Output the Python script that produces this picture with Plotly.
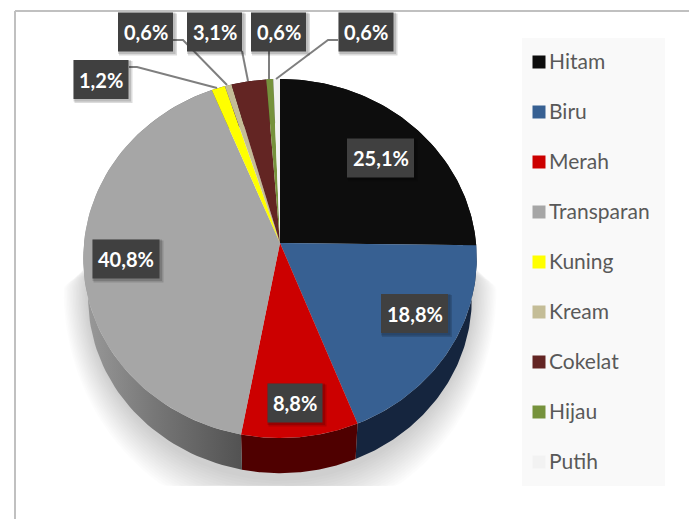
import numpy as np
import plotly.graph_objects as go

categories = ["Hitam", "Biru", "Merah", "Transparan", "Kuning", "Kream", "Cokelat", "Hijau", "Putih"]
shares = [25.1, 18.8, 8.8, 40.8, 1.2, 0.6, 3.1, 0.6, 0.6]
labels = ["25,1%", "18,8%", "8,8%", "40,8%", "1,2%", "0,6%", "3,1%", "0,6%", "0,6%"]
colors = ["#0d0d0d", "#376092", "#cc0000", "#a6a6a6", "#ffff00", "#c4bd97", "#632523", "#76923c", "#f2f2f2"]
wall_colors = ["#050505", "#15253e", "#4f0000", "#6e6e6e", "#7f7f00", "#625e4b", "#311211", "#3b491e", "#797979"]

# label box centres, same order as categories
label_x = [380.5, 414.5, 295, 126, 101, 145.5, 214.5, 278.5, 366]
label_y = [158, 313.5, 403, 259, 79.5, 32, 32, 32, 32]

# leader lines for the small slices
leader_x = [[129, 137, 217], [173, 183, 227], [242, 248], [269, 269], [338, 328, 276]]
leader_y = [[67, 67, 88], [40, 40, 85], [51, 81], [51, 79], [40, 40, 79]]

FONT = "Lato, 'Open Sans', sans-serif"
CX, CY = 280, 243
RX, RY, PERSP = 196, 178.2, 0.0864
WALL_SCALE, WALL_Y = 0.975, 283


def rim(theta, scale=1.0, y0=CY):
    # perspective projection of the pie rim, theta clockwise from 12 o'clock
    s, c = np.sin(theta), np.cos(theta)
    d = 1 + PERSP * c
    return CX + scale * RX * s / d, y0 - scale * RY * c / d


fig = go.Figure()

# soft shadow under the pie
t = np.linspace(0, 2 * np.pi, 181)
for i in range(16):
    rx = 194 + i * 1.5
    ry = np.where(np.cos(t) > 0, 110 - i * 5, 191 + i * 2.8)
    sx = 280 + rx * np.sin(t)
    sy = np.minimum(290 - ry * np.cos(t), 486)
    fig.add_trace(go.Scatter(x=sx, y=sy, mode="lines", fill="toself", line=dict(width=0),
                             fillcolor="rgba(0,0,0,0.013)", hoverinfo="skip", showlegend=False))

edges = np.cumsum([0] + shares) / sum(shares) * 2 * np.pi

# side wall
for i, name in enumerate(categories):
    th = np.linspace(edges[i], edges[i + 1], 80)
    ux, uy = rim(th)
    lx, ly = rim(th, WALL_SCALE, WALL_Y)
    wall = dict(fillcolor=wall_colors[i])
    if name == "Transparan":
        wall = dict(fillgradient=dict(type="horizontal",
                                      colorscale=[[0, "#9a9a9a"], [0.45, "#777777"], [1, "#525252"]]))
    fig.add_trace(go.Scatter(x=np.r_[ux, lx[::-1]], y=np.r_[uy, ly[::-1]], mode="lines", fill="toself",
                             line=dict(width=0), hoverinfo="skip", showlegend=False, **wall))

# top face
for i, name in enumerate(categories):
    th = np.linspace(edges[i], edges[i + 1], 80)
    ux, uy = rim(th)
    fig.add_trace(go.Scatter(x=np.r_[CX, ux, CX], y=np.r_[CY, uy, CY], mode="lines", fill="toself",
                             fillcolor=colors[i], line=dict(width=0), name=name,
                             hoverinfo="name", showlegend=False))

# leader lines
for lx, ly in zip(leader_x, leader_y):
    fig.add_trace(go.Scatter(x=lx, y=ly, mode="lines", line=dict(color="#7f7f7f", width=2),
                             hoverinfo="skip", showlegend=False))

# legend
legend_y = [62 + 50 * i for i in range(len(categories))]
fig.add_trace(go.Scatter(x=[539] * len(categories), y=legend_y, mode="markers",
                         marker=dict(symbol="square", size=13, color=colors),
                         hoverinfo="skip", showlegend=False))
fig.add_trace(go.Scatter(x=[549] * len(categories), y=[v + 2 for v in legend_y], mode="text",
                         text=categories, textposition="middle right",
                         textfont=dict(family=FONT, size=21, color="#595959"),
                         hoverinfo="skip", showlegend=False))

shapes = [
    dict(type="rect", x0=522, x1=665, y0=38, y1=486, fillcolor="#f9f9f9", line=dict(width=0), layer="below"),
    dict(type="line", x0=15, x1=689, y0=11, y1=11, line=dict(color="#c0c0c0", width=2), layer="below"),
    dict(type="line", x0=15, x1=15, y0=11, y1=519, line=dict(color="#c0c0c0", width=2), layer="below"),
]
annotations = []
for lab, x, y in zip(labels, label_x, label_y):
    w = 33.5 if len(lab) == 5 else 27.5
    h = 19.5
    shapes.append(dict(type="rect", x0=x - w + 1, x1=x + w + 4, y0=y - h + 1, y1=y + h + 4,
                       fillcolor="rgba(0,0,0,0.14)", line=dict(width=0), layer="above"))
    shapes.append(dict(type="rect", x0=x - w, x1=x + w + 2.5, y0=y - h, y1=y + h + 2.5,
                       fillcolor="rgba(0,0,0,0.14)", line=dict(width=0), layer="above"))
    shapes.append(dict(type="rect", x0=x - w, x1=x + w, y0=y - h, y1=y + h,
                       fillcolor="#404040", line=dict(width=0), layer="above"))
    annotations.append(dict(x=x, y=y, text=lab, showarrow=False, xanchor="center", yanchor="middle",
                            font=dict(family=FONT, size=20, color="#ffffff", weight=700)))

fig.update_layout(
    width=689,
    height=519,
    margin=dict(l=0, r=0, t=0, b=0),
    paper_bgcolor="#ffffff",
    plot_bgcolor="#ffffff",
    shapes=shapes,
    annotations=annotations,
    xaxis=dict(range=[0, 689], visible=False, fixedrange=True),
    yaxis=dict(range=[519, 0], visible=False, fixedrange=True),
)

fig.write_html("out.html", post_script="document.body.style.margin='0';", config=dict(displayModeBar=False))
